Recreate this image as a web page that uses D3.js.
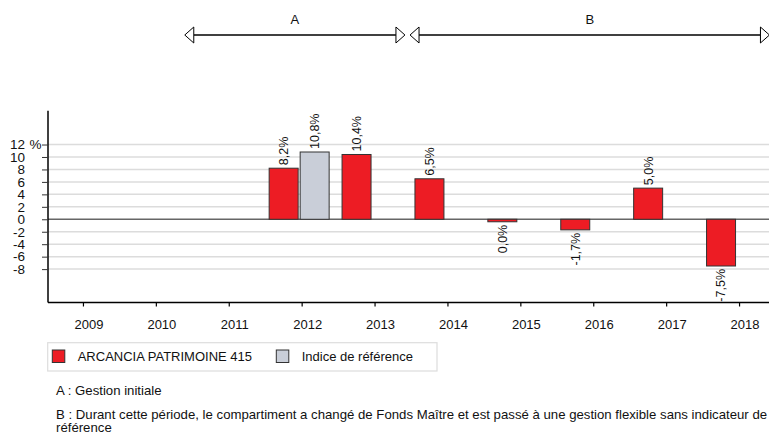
<!DOCTYPE html>
<html>
<head>
<meta charset="utf-8">
<script src="https://cdn.jsdelivr.net/npm/d3@7"></script>
<style>
  body { margin: 0; background: #fff; }
  svg { display: block; font-family: "Liberation Sans", Arial, sans-serif; }
</style>
</head>
<body>
<script>
// data
const years = [2009, 2010, 2011, 2012, 2013, 2014, 2015, 2016, 2017, 2018];
const fundValues = [null, null, null, 8.2, 10.4, 6.5, -0.04, -1.7, 5.0, -7.5];
const indexValues = [null, null, null, 10.8, null, null, null, null, null, null];
const seriesNames = ["ARCANCIA PATRIMOINE 415", "Indice de référence"];
const seriesColors = ["#ed1c24", "#c9ced8"];
const yTicks = [12, 10, 8, 6, 4, 2, 0, -2, -4, -6, -8];
const periods = [
  {label: "A", start: 2010.39, end: 2013.41},
  {label: "B", start: 2013.48, end: 2018.41}
];
const notes = [
  ["A : Gestion initiale"],
  ["B : Durant cette période, le compartiment a changé de Fonds Maître et est passé à une gestion flexible sans indicateur de", "référence"]
];

const W = 769, H = 436;
const svg = d3.select("body").append("svg")
  .attr("width", W)
  .attr("height", H);

// french number format
const fr = d3.formatLocale({decimal: ",", thousands: " ", grouping: [3], currency: ["", " €"], minus: "-"});
const pct = fr.format(".1f");

// scales
const x = d3.scaleBand().domain(years).range([47, 776]);
const y = d3.scaleLinear().domain([-13.36, 17.43]).range([302.5, 110.7]);
const xYear = d3.scaleLinear().domain([2009, 2018])
  .range([x(2009) + x.bandwidth() / 2, x(2018) + x.bandwidth() / 2]);
// bars inside a year group (group centre is 3px left of the tick)
const xSub = d3.scaleBand().domain([0, 1]).range([-33, 27]).paddingInner(0.065);

// grid lines
svg.append("g").selectAll("line")
  .data(yTicks)
  .enter().append("line")
  .attr("x1", 48).attr("x2", W)
  .attr("y1", d => y(d)).attr("y2", d => y(d))
  .attr("stroke", d => d === 0 ? "#666" : "#dcdcdc")
  .attr("stroke-width", 1.5);

// y axis
const gy = svg.append("g")
  .attr("transform", "translate(48,0)")
  .call(d3.axisLeft(y).tickValues(yTicks).tickSize(6).tickPadding(17).tickFormat(d3.format("d")));
gy.select(".domain").attr("d", "M0," + y.range()[1] + "V" + y.range()[0]).attr("stroke", "#000").attr("stroke-width", 1.5);
gy.selectAll(".tick line").attr("stroke", "#333");
gy.selectAll(".tick text").attr("font-size", 13.5).attr("fill", "#111")
  .text(d => d < 0 ? "-" + Math.abs(d) : d);
svg.append("text")
  .attr("x", 29.5).attr("y", y(12)).attr("dy", "0.32em")
  .attr("font-size", 13.5).attr("fill", "#111")
  .text("%");

// x axis
const gx = svg.append("g")
  .attr("transform", "translate(0,302.5)")
  .call(d3.axisBottom(x).tickSize(4).tickPadding(13.3));
gx.select(".domain").attr("d", "M48,0H" + W).attr("stroke", "#000").attr("stroke-width", 1.5);
gx.selectAll(".tick line").attr("stroke", "#000").attr("stroke-width", 1.2);
gx.selectAll(".tick text").attr("font-size", 13).attr("fill", "#111").attr("dx", 5.5);

// bars
const seriesValues = [fundValues, indexValues];
seriesValues.forEach(function(vals, s) {
  const pts = years.map((yr, i) => ({year: yr, v: vals[i]})).filter(d => d.v !== null);
  const gb = svg.append("g");
  gb.selectAll("rect")
    .data(pts)
    .enter().append("rect")
    .attr("x", d => x(d.year) + x.bandwidth() / 2 + xSub(s))
    .attr("width", xSub.bandwidth())
    .attr("y", d => d.v >= 0 ? y(d.v) : y(0))
    .attr("height", d => Math.max(2.5, Math.abs(y(d.v) - y(0))))
    .attr("fill", seriesColors[s])
    .attr("stroke", "#333")
    .attr("stroke-width", 1);
  gb.selectAll("text")
    .data(pts)
    .enter().append("text")
    .attr("transform", function(d) {
      const cx = x(d.year) + x.bandwidth() / 2 + xSub(s) + xSub.bandwidth() / 2;
      const ty = d.v >= 0 ? y(d.v) - 3 : y(0) + Math.max(2.5, y(d.v) - y(0)) + 3;
      return "translate(" + cx + "," + ty + ") rotate(-90)";
    })
    .attr("dy", "0.35em")
    .attr("text-anchor", d => d.v >= 0 ? "start" : "end")
    .attr("font-size", 12.5)
    .attr("fill", "#111")
    .text(d => pct(d.v) + "%");
});

// period arrows at the top
const ay = 35;
const pg = svg.append("g").selectAll("g")
  .data(periods)
  .enter().append("g");
pg.append("line")
  .attr("x1", d => xYear(d.start) + 9).attr("x2", d => xYear(d.end) - 9)
  .attr("y1", ay).attr("y2", ay)
  .attr("stroke", "#000").attr("stroke-width", 1.4);
pg.append("path")
  .attr("d", d => {
    const a = xYear(d.start), b = xYear(d.end);
    return "M" + a + "," + ay + "L" + (a + 9) + "," + (ay - 8) + "L" + (a + 9) + "," + (ay + 8) + "Z" +
      "M" + b + "," + ay + "L" + (b - 9) + "," + (ay - 8) + "L" + (b - 9) + "," + (ay + 8) + "Z";
  })
  .attr("fill", "#fff").attr("stroke", "#000").attr("stroke-width", 1);
pg.append("text")
  .attr("x", d => (xYear(d.start) + xYear(d.end)) / 2)
  .attr("y", 24)
  .attr("text-anchor", "middle")
  .attr("font-size", 13)
  .attr("fill", "#111")
  .text(d => d.label);

// legend
const lg = svg.append("g");
lg.append("rect")
  .attr("x", 47.7).attr("y", 342.7).attr("width", 389.3).attr("height", 28.3)
  .attr("fill", "#fff").attr("stroke", "#ddd").attr("stroke-width", 1.2);
const legendX = [52.3, 276.3];
seriesNames.forEach(function(name, i) {
  lg.append("rect")
    .attr("x", legendX[i]).attr("y", 350).attr("width", 12.5).attr("height", 12.5)
    .attr("fill", seriesColors[i]).attr("stroke", "#333").attr("stroke-width", 1);
  lg.append("text")
    .attr("x", legendX[i] + 25.4).attr("y", 361)
    .attr("font-size", 13).attr("fill", "#111")
    .text(name);
});

// notes under the chart
const noteY = [395, 419];
notes.forEach(function(lines, i) {
  const t = svg.append("text")
    .attr("x", 56).attr("y", noteY[i])
    .attr("font-size", 13.2).attr("fill", "#111");
  lines.forEach(function(l, j) {
    t.append("tspan").attr("x", 56).attr("dy", j === 0 ? 0 : 13).text(l);
  });
});
</script>
</body>
</html>
